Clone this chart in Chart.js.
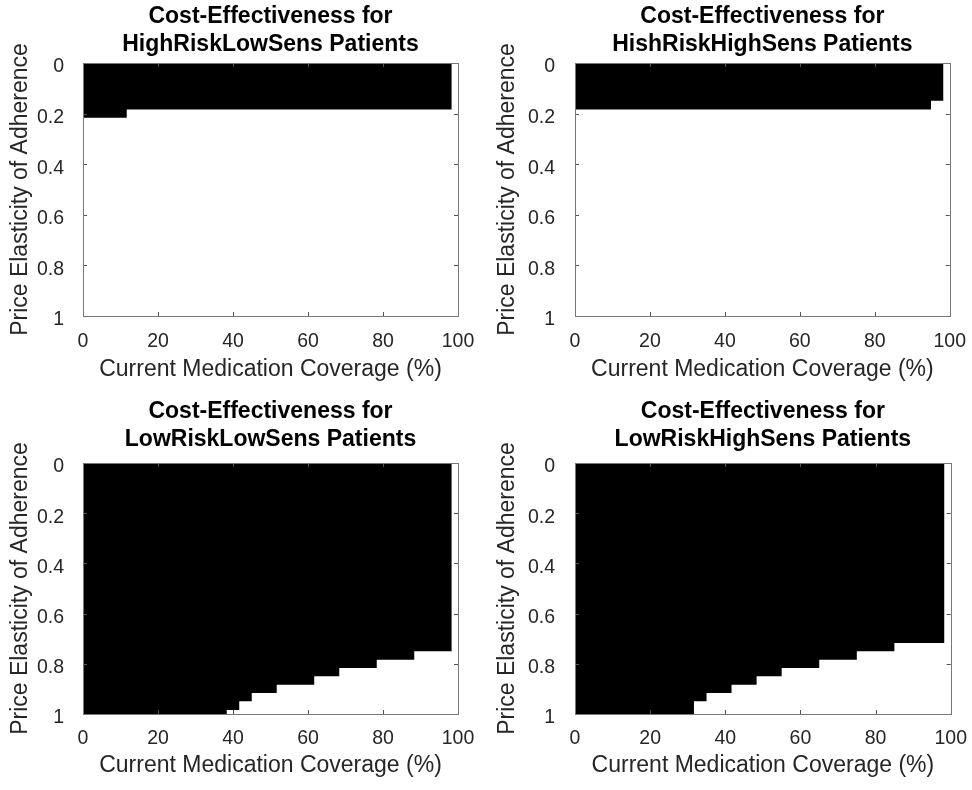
<!DOCTYPE html>
<html>
<head>
<meta charset="utf-8">
<script src="https://cdn.jsdelivr.net/npm/chart.js@4.4.0/dist/chart.umd.min.js"></script>
<style>
  body { margin: 0; background: #fff; }
  .panel { position: absolute; width: 486px; height: 395px; }
</style>
</head>
<body>
<div class="panel" style="left:0;top:0"><canvas id="c1" width="486" height="395"></canvas></div>
<div class="panel" style="left:486px;top:0"><canvas id="c2" width="486" height="395"></canvas></div>
<div class="panel" style="left:0;top:395px"><canvas id="c3" width="486" height="395"></canvas></div>
<div class="panel" style="left:486px;top:395px"><canvas id="c4" width="486" height="395"></canvas></div>
<script>
// coverage levels (%) of the grid columns
const coverage = [0, 3.33, 6.67, 10, 13.33, 16.67, 20, 23.33, 26.67, 30, 33.33, 36.67, 40, 43.33, 46.67,
  50, 53.33, 56.67, 60, 63.33, 66.67, 70, 73.33, 76.67, 80, 83.33, 86.67, 90, 93.33, 96.67, 100];
const coverageStep = 3.333;
const elasticityStep = 0.03333;

// highest price elasticity that is still cost-effective at each coverage level (null = none)
const highRiskLowSens = [0.2, 0.2, 0.2, 0.2, 0.167, 0.167, 0.167, 0.167, 0.167, 0.167, 0.167, 0.167, 0.167, 0.167, 0.167,
  0.167, 0.167, 0.167, 0.167, 0.167, 0.167, 0.167, 0.167, 0.167, 0.167, 0.167, 0.167, 0.167, 0.167, 0.167, null];
const hishRiskHighSens = [0.167, 0.167, 0.167, 0.167, 0.167, 0.167, 0.167, 0.167, 0.167, 0.167, 0.167, 0.167, 0.167, 0.167, 0.167,
  0.167, 0.167, 0.167, 0.167, 0.167, 0.167, 0.167, 0.167, 0.167, 0.167, 0.167, 0.167, 0.167, 0.167, 0.133, null];
const lowRiskLowSens = [1, 1, 1, 1, 1, 1, 1, 1, 1, 1, 1, 1, 0.967, 0.933, 0.9,
  0.9, 0.867, 0.867, 0.867, 0.833, 0.833, 0.8, 0.8, 0.8, 0.767, 0.767, 0.767, 0.733, 0.733, 0.733, null];
const lowRiskHighSens = [1, 1, 1, 1, 1, 1, 1, 1, 1, 1, 0.933, 0.9, 0.9, 0.867, 0.867,
  0.833, 0.833, 0.8, 0.8, 0.8, 0.767, 0.767, 0.767, 0.733, 0.733, 0.733, 0.7, 0.7, 0.7, 0.7, null];

const xTicks = [0, 20, 40, 60, 80, 100];
const yTicks = [0, 0.2, 0.4, 0.6, 0.8, 1];

Chart.defaults.font.family = '"Liberation Sans", Arial, sans-serif';
Chart.defaults.color = '#262626';

// turn each cost-effective column into a step of the black area
function regionPoints(cutoffs) {
  const pts = [];
  let lastX = null, lastY = null;
  cutoffs.forEach((c, i) => {
    if (c === null) return;
    const y = c + elasticityStep / 2;
    pts.push({ x: Math.max(0, coverage[i] - coverageStep / 2), y: y });
    lastX = Math.min(100, coverage[i] + coverageStep / 2);
    lastY = y;
  });
  pts.push({ x: lastX, y: lastY });
  return pts;
}

// box around the plot and inward tick marks, like the original figure
const axesBox = {
  id: 'axesBox',
  afterDatasetsDraw(chart) {
    const { ctx, chartArea: a, scales: { x, y } } = chart;
    const len = 4;
    ctx.save();
    ctx.lineWidth = 1;
    ctx.strokeStyle = '#555';
    ctx.beginPath();
    x.ticks.forEach(t => {
      const px = Math.round(x.getPixelForValue(t.value)) + 0.5;
      ctx.moveTo(px, a.top); ctx.lineTo(px, a.top + len);
      ctx.moveTo(px, a.bottom); ctx.lineTo(px, a.bottom - len);
    });
    y.ticks.forEach(t => {
      const py = Math.round(y.getPixelForValue(t.value)) + 0.5;
      ctx.moveTo(a.left, py); ctx.lineTo(a.left + len, py);
      ctx.moveTo(a.right, py); ctx.lineTo(a.right - len, py);
    });
    ctx.stroke();
    ctx.strokeStyle = '#777';
    ctx.strokeRect(Math.round(a.left) + 0.5, Math.round(a.top) + 0.5,
      Math.round(a.right - a.left), Math.round(a.bottom - a.top));
    ctx.restore();
  }
};

function makePanel(id, groupName, cutoffs, box) {
  const W = 486, H = 395;
  return new Chart(document.getElementById(id), {
    type: 'line',
    data: {
      datasets: [{
        data: regionPoints(cutoffs),
        stepped: true,
        fill: { value: 0 },
        backgroundColor: '#000',
        borderWidth: 0,
        pointRadius: 0
      }]
    },
    options: {
      responsive: false,
      animation: false,
      devicePixelRatio: 1,
      layout: { padding: { left: 0, top: 0, right: W - box.right, bottom: 0 } },
      plugins: {
        legend: { display: false },
        tooltip: { enabled: false },
        title: {
          display: true,
          fullSize: false,
          text: ['Cost-Effectiveness for', groupName + ' Patients'],
          color: '#000',
          font: { size: 23, weight: 'bold', lineHeight: '28px' },
          padding: { top: 3, bottom: box.top - 56 - 3 }
        }
      },
      scales: {
        x: {
          type: 'linear',
          min: 0,
          max: 100,
          afterBuildTicks: s => { s.ticks = xTicks.map(v => ({ value: v })); },
          afterFit: s => { s.height = H - box.bottom; },
          grid: { display: false },
          border: { display: false },
          ticks: { font: { size: 19.5 }, padding: box.xTickPad, maxRotation: 0, autoSkip: false },
          title: {
            display: true,
            text: 'Current Medication Coverage (%)',
            font: { size: 23 },
            padding: { top: 0, bottom: box.xTitlePad }
          }
        },
        y: {
          type: 'linear',
          reverse: true,
          min: 0,
          max: 1,
          afterBuildTicks: s => { s.ticks = yTicks.map(v => ({ value: v })); },
          afterFit: s => { s.width = box.left; },
          grid: { display: false },
          border: { display: false },
          ticks: {
            font: { size: 19.5 },
            padding: box.yTickPad,
            labelOffset: 4,
            callback: v => String(v)
          },
          title: {
            display: true,
            text: 'Price Elasticity of Adherence',
            font: { size: 23 },
            padding: { top: box.yTitlePad, bottom: 0 }
          }
        }
      }
    },
    plugins: [axesBox]
  });
}

makePanel('c1', 'HighRiskLowSens', highRiskLowSens,
  { left: 83, top: 63, right: 458, bottom: 316, xTickPad: 6, xTitlePad: 12, yTickPad: 11, yTitlePad: 7 });
makePanel('c2', 'HishRiskHighSens', hishRiskHighSens,
  { left: 89, top: 63, right: 466, bottom: 316, xTickPad: 6, xTitlePad: 12, yTickPad: 12, yTitlePad: 8 });
makePanel('c3', 'LowRiskLowSens', lowRiskLowSens,
  { left: 83, top: 68, right: 458, bottom: 319, xTickPad: 5, xTitlePad: 11, yTickPad: 11, yTitlePad: 7 });
makePanel('c4', 'LowRiskHighSens', lowRiskHighSens,
  { left: 89, top: 68, right: 466, bottom: 319, xTickPad: 5, xTitlePad: 11, yTickPad: 12, yTitlePad: 8 });
</script>
</body>
</html>
